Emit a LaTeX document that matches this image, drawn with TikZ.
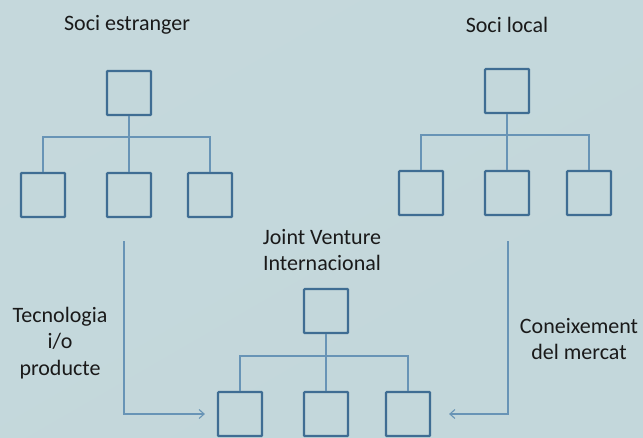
\documentclass[tikz,border=0pt]{standalone}
\usepackage{fontspec}
\setmainfont{Carlito}
\usetikzlibrary{arrows.meta}
\definecolor{bg}{HTML}{C3D7DB}
\definecolor{boxc}{HTML}{3F6D93}
\definecolor{linec}{HTML}{6894B6}
\definecolor{txt}{HTML}{1A1A1A}
\tikzset{
  orgbox/.style={draw=boxc, line width=2.2pt, fill=bg, minimum width=44pt, minimum height=44pt, inner sep=0pt, rounded corners=0.8pt},
  tree/.style={draw=linec, line width=1.4pt},
  flow/.style={draw=linec, line width=1.1pt, -{Straight Barb[length=5pt,width=9pt]}},
  lbl/.style={text=txt, font=\fontsize{22}{26.5}\selectfont, align=center}
}
\begin{document}
\begin{tikzpicture}[x=1pt,y=-1pt]
\shade[top color=bg!97!white, bottom color=bg, shading angle=30] (0,0) rectangle (643,437);
\useasboundingbox (0,0) rectangle (643,437);
% left tree
\node[orgbox] (lt) at (129,93) {};
\node[orgbox] (l1) at (43,195) {};
\node[orgbox] (l2) at (129,195) {};
\node[orgbox] (l3) at (210,195) {};
\coordinate (lb) at (129,137);
\draw[tree] (lt.south) -- (l2.north);
\draw[tree] (l1.north) |- (lb) -| (l3.north);
% right tree
\node[orgbox] (rt) at (507,91) {};
\node[orgbox] (r1) at (421,193) {};
\node[orgbox] (r2) at (507,193) {};
\node[orgbox] (r3) at (589,193) {};
\coordinate (rb) at (507,135);
\draw[tree] (rt.south) -- (r2.north);
\draw[tree] (r1.north) |- (rb) -| (r3.north);
% bottom tree
\node[orgbox] (bt) at (326,311) {};
\node[orgbox] (b1) at (240,414) {};
\node[orgbox] (b2) at (326,414) {};
\node[orgbox] (b3) at (408,414) {};
\coordinate (bb) at (326,356);
\draw[tree] (bt.south) -- (b2.north);
\draw[tree] (b1.north) |- (bb) -| (b3.north);
% labels
\node[lbl] (ls) at (127,25) {Soci estranger};
\node[lbl] (rs) at (507,25) {Soci local};
\node[lbl] (js) at (322,250) {Joint Venture\\Internacional};
\node[lbl] (tp) at (60,343) {Tecnologia\\i/o\\producte};
\node[lbl] (cm) at (579,339) {Coneixement\\del mercat};
% flows
\coordinate (fl) at (124,241);
\coordinate (fr) at (508,241);
\draw[flow] (fl) |- ([xshift=-12pt]b1.west);
\draw[flow] (fr) |- ([xshift=18pt]b3.east);
\end{tikzpicture}
\end{document}
